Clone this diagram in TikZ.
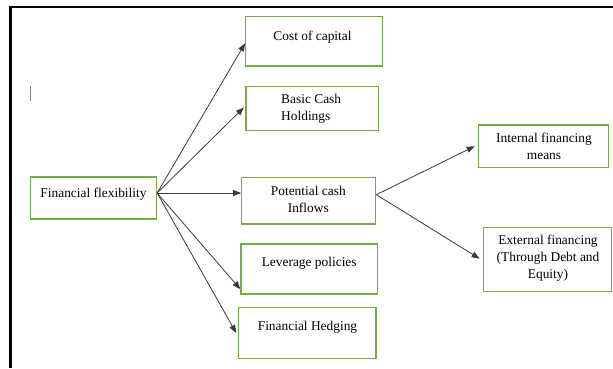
\documentclass[tikz,border=0pt]{standalone}
\usepackage{fontspec}
\setmainfont{Liberation Serif}
\usetikzlibrary{arrows.meta,calc}
\definecolor{boxgreen}{HTML}{70AD47}
\definecolor{arrgray}{HTML}{3A3A3A}
\tikzset{
  boxnode/.style={draw=boxgreen, line width=1.3pt, rectangle, inner sep=0pt},
  lbl/.style={inner sep=0pt, font=\fontsize{13.4}{17}\selectfont, align=center},
  lbll/.style={inner sep=0pt, font=\fontsize{13.4}{17}\selectfont, align=left},
  arr/.style={draw=arrgray, line width=0.8pt, -{Triangle[length=8pt,width=6pt]}},
  frameline/.style={line width=2.4pt, black},
}
\begin{document}
\begin{tikzpicture}[x=1pt,y=-1pt]
\useasboundingbox (0,0) rectangle (613,368);
% frame
\draw[frameline] (9.3,7) -- (613,7);
\draw[frameline] (10.5,5.8) -- (10.5,368);
% cursor mark
\draw[gray, line width=1.3pt] (30.5,86) -- (30.5,100.5);

% boxes
\node[boxnode, minimum width=126pt, minimum height=42pt] (ff) at (93.5,198) {};
\node[boxnode, minimum width=136.5pt, minimum height=49.5pt] (cost) at (314,41.3) {};
\node[boxnode, minimum width=132.7pt, minimum height=43.6pt] (basic) at (312.3,108.5) {};
\node[boxnode, minimum width=134pt, minimum height=46.7pt] (pot) at (308.7,200.7) {};
\node[boxnode, minimum width=136.7pt, minimum height=50pt] (lev) at (309.3,269) {};
\node[boxnode, minimum width=137.7pt, minimum height=50.6pt] (hedge) at (307.2,333) {};
\node[boxnode, minimum width=130pt, minimum height=42.3pt] (int) at (543.3,146.2) {};
\node[boxnode, minimum width=128.4pt, minimum height=64pt] (ext) at (547.5,259.7) {};

% texts
\node[lbl] (ffT) at (93.5,194.5) {Financial flexibility};
\node[lbl] (costT) at (312.5,37.5) {Cost of capital};
\node[lbll, anchor=west] (basicT) at (281,108.5) {Basic Cash\\Holdings};
\node[lbl] (potT) at (308.3,199.5) {Potential cash\\Inflows};
\node[lbl] (levT) at (309.2,263.5) {Leverage policies};
\node[lbl] (hedgeT) at (307.5,327) {Financial Hedging};
\node[lbl] (intT) at (544,146.5) {Internal financing\\means};
\node[lbl] (extT) at (548,258.5) {External financing\\(Through Debt and\\Equity)};

% connectors
\coordinate (src) at ($(ff.east)+(0,-5)$);
\draw[arr] (src) -- ($(cost.west)+(0,2)$);
\draw[arr] (src) -- ($(basic.west)+(-1.5,-1)$);
\draw[arr] (src) -- (src -| pot.west);
\draw[arr] (src) -- ($(lev.south west)+(0,-5.5)$);
\draw[arr] (src) -- ($(hedge.west)+(-1.5,0)$);
\coordinate (psrc) at ($(pot.east)+(0,-6)$);
\draw[arr] (psrc) -- ($(int.west)+(-3,0)$);
\draw[arr] (psrc) -- ($(ext.west)+(-3,-1)$);
\end{tikzpicture}
\end{document}
